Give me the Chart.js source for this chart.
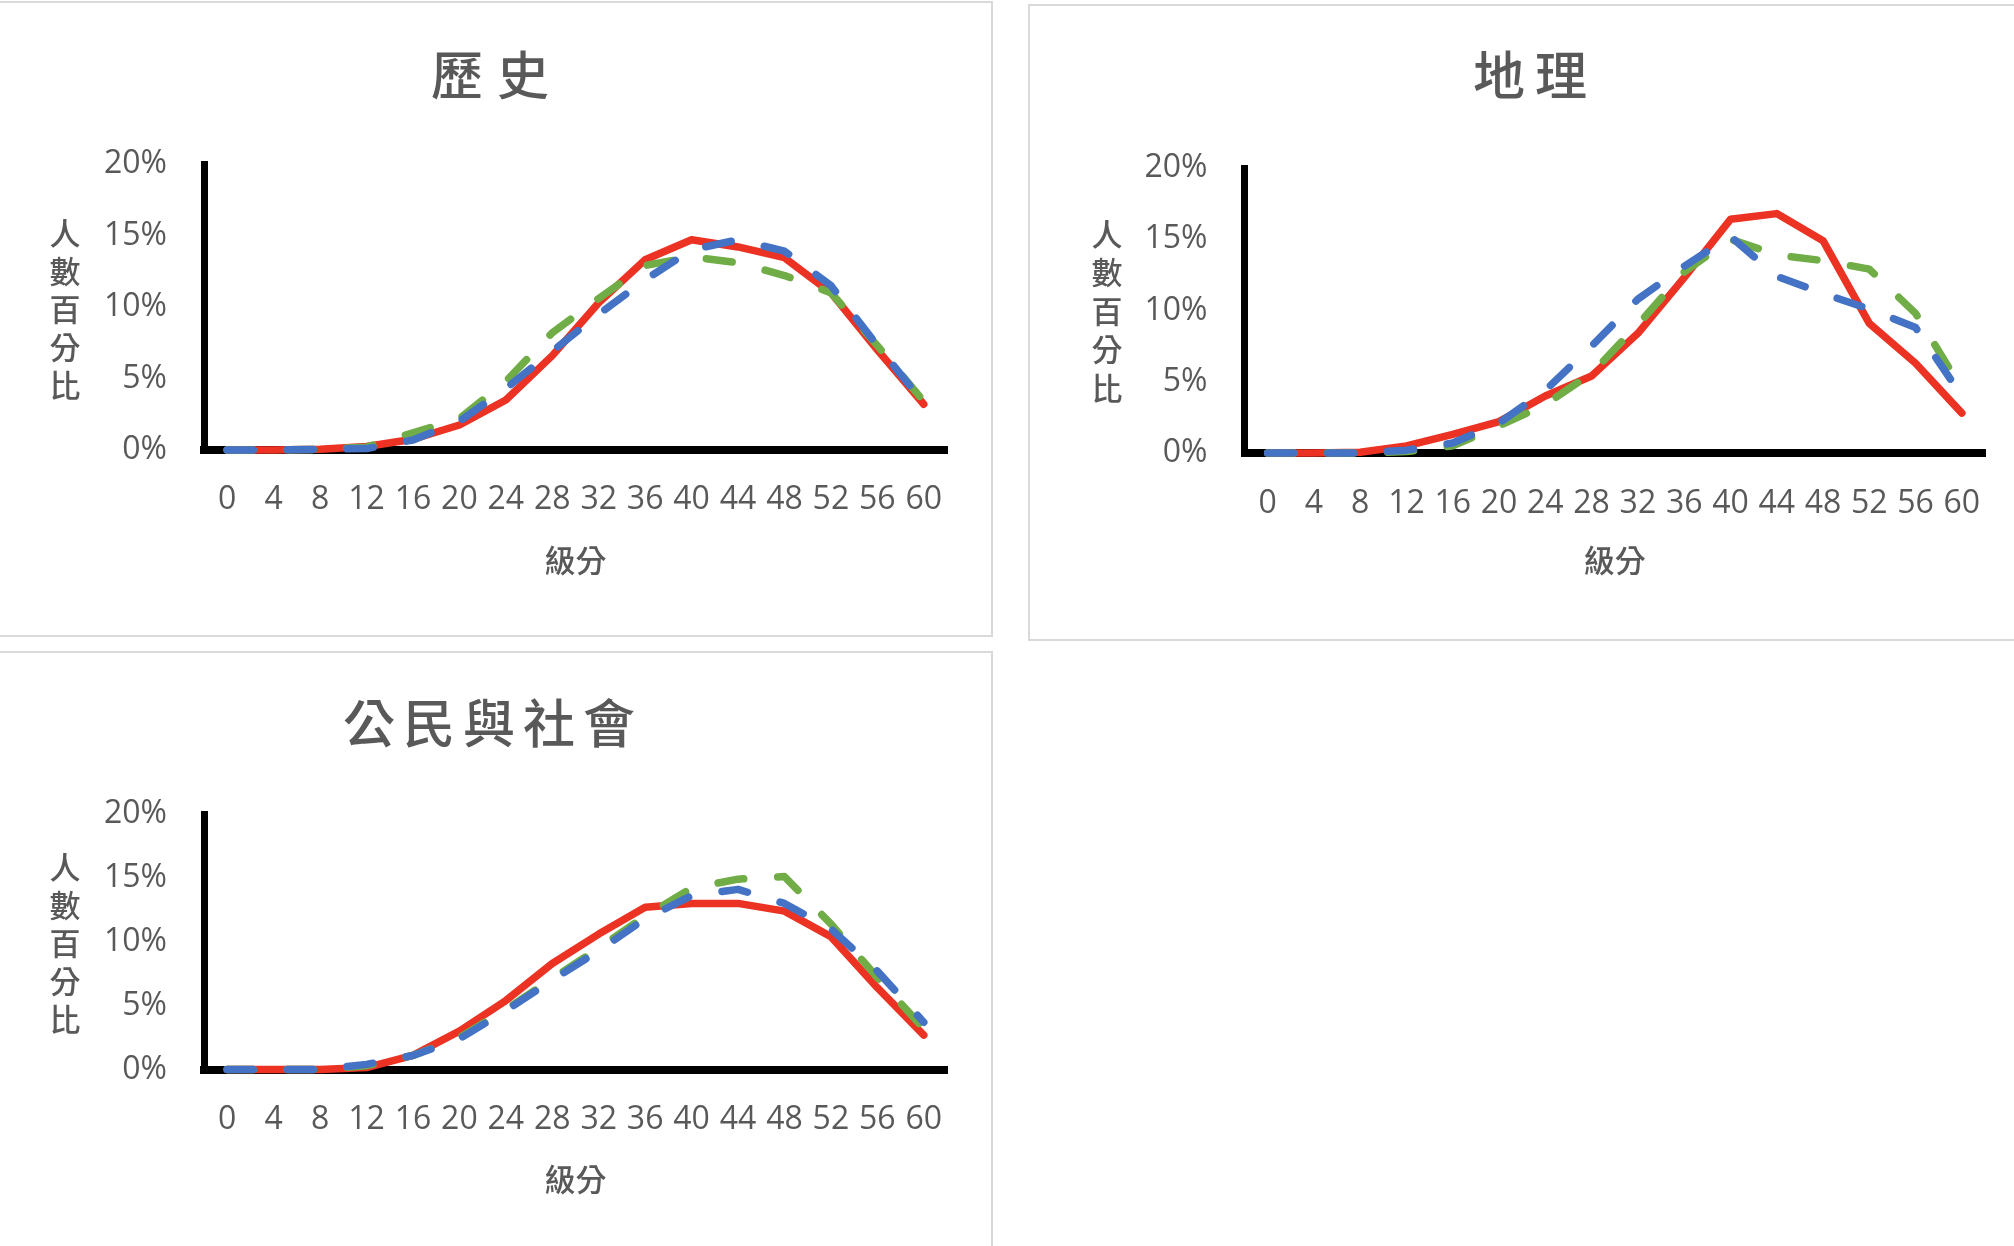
<!DOCTYPE html>
<html>
<head>
<meta charset="utf-8">
<script src="https://cdn.jsdelivr.net/npm/chart.js@4.4.1/dist/chart.umd.min.js"></script>
<style>
html,body{margin:0;padding:0;background:#fff;width:2014px;height:1246px;overflow:hidden;position:relative}
.panel{position:absolute;border:2px solid #d9d9d9;box-sizing:border-box;background:#fff}
canvas{position:absolute}
</style>
</head>
<body>
<div class="panel" style="left:-4px;top:1px;width:997px;height:636px"></div>
<div class="panel" style="left:1028px;top:4px;width:1000px;height:637px"></div>
<div class="panel" style="left:-4px;top:651px;width:997px;height:700px"></div>
<canvas id="c1" width="990" height="634" style="left:0px;top:0px"></canvas>
<canvas id="c2" width="984" height="632" style="left:1030px;top:6px"></canvas>
<canvas id="c3" width="990" height="593" style="left:0px;top:653px"></canvas>
<script>
// ---- data ----
const scoreLabels = ['0','4','8','12','16','20','24','28','32','36','40','44','48','52','56','60'];
const chartTitles = ['歷史', '地理', '公民與社會'];
const yAxisTitle = '人數百分比';
const xAxisTitle = '級分';
const seriesNames = ['系列1', '系列2', '系列3'];

// 歷史
const histRed   = [0, 0, 0.05, 0.25, 0.75, 1.75, 3.5, 6.6, 10.3, 13.3, 14.7, 14.2, 13.45, 11.0, 7.0, 3.2];
const histGreen = [0, 0, 0.05, 0.2, 1.2, 2.2, 4.8, 8.2, 10.6, 12.9, 13.5, 13.1, 12.2, 11.0, 7.3, 3.4];
const histBlue  = [0, 0, 0.05, 0.1, 0.7, 2.0, 4.3, 6.9, 9.5, 11.9, 14.0, 14.7, 13.9, 11.5, 7.3, 3.3];
// 地理
const geoRed   = [0, 0, 0.05, 0.5, 1.3, 2.2, 4.0, 5.4, 8.4, 12.3, 16.4, 16.8, 14.9, 9.1, 6.3, 2.8];
const geoGreen = [0, 0, 0, 0.1, 0.5, 1.9, 3.4, 5.6, 9.0, 12.7, 15.0, 13.9, 13.5, 12.9, 9.8, 4.5];
const geoBlue  = [0, 0, 0, 0.2, 0.7, 2.1, 4.4, 7.5, 10.8, 13.1, 15.2, 12.4, 11.2, 10.1, 8.8, 4.0];
// 公民與社會
const civRed   = [0, 0, 0, 0.15, 1.1, 3.0, 5.4, 8.3, 10.6, 12.7, 13.0, 13.0, 12.4, 10.4, 6.4, 2.7];
const civGreen = [0, 0, 0, 0.3, 1.1, 2.5, 4.7, 7.1, 9.5, 12.0, 14.2, 14.9, 15.1, 11.4, 7.2, 3.2];
const civBlue  = [0, 0, 0, 0.4, 1.1, 2.4, 4.6, 7.0, 9.3, 11.8, 13.6, 14.1, 13.0, 11.0, 7.7, 3.7];

// ---- styles ----
const RED = '#EB3223', GREEN = '#70AD47', BLUE = '#4472C4', TEXT = '#595959';
const NUM_FONT = '"Open Sans", "Liberation Sans", sans-serif';
const CJK_FONT = '"Noto Sans CJK TC", "Noto Sans CJK SC", sans-serif';

const panelText = {
  id: 'panelText',
  afterDraw(chart, args, o) {
    const ctx = chart.ctx;
    ctx.save();
    ctx.fillStyle = TEXT;
    ctx.textAlign = 'center';
    ctx.textBaseline = 'middle';
    ctx.font = '500 52px ' + CJK_FONT;
    ctx.letterSpacing = o.titleSpacing + 'px';
    ctx.fillText(o.title, o.titleX + o.titleSpacing / 2, o.titleY);
    ctx.letterSpacing = '0px';
    ctx.font = '500 31px ' + CJK_FONT;
    const chars = Array.from(yAxisTitle);
    chars.forEach((c, i) => ctx.fillText(c, o.yTitleX, o.yTitleY + i * o.yTitleStep));
    ctx.restore();
  }
};

function makeChart(id, title, red, green, blue, g) {
  const common = {borderWidth: 7.5, pointRadius: 0, tension: 0, fill: false, clip: false,
                  borderCapStyle: 'round', borderJoinStyle: 'round'};
  return new Chart(document.getElementById(id), {
    type: 'line',
    data: {
      labels: scoreLabels,
      datasets: [
        Object.assign({label: seriesNames[2], data: blue, borderColor: BLUE, borderDash: [26, 34]}, common),
        Object.assign({label: seriesNames[1], data: green, borderColor: GREEN, borderDash: [26, 34]}, common),
        Object.assign({label: seriesNames[0], data: red, borderColor: RED, borderDash: []}, common)
      ]
    },
    options: {
      responsive: false,
      animation: false,
      devicePixelRatio: 1,
      layout: {padding: {left: 0, right: g.padR, top: g.padT, bottom: g.padB}},
      plugins: {
        legend: {display: false},
        tooltip: {enabled: false},
        title: {display: false},
        panelText: {title: title, titleX: g.titleX, titleY: g.titleY, titleSpacing: g.titleSpacing,
                    yTitleX: g.yTitleX, yTitleY: g.yTitleY, yTitleStep: g.yTitleStep}
      },
      scales: {
        x: {
          type: 'category',
          offset: true,
          grid: {display: false, drawTicks: false},
          border: {display: true, color: '#000', width: 8},
          ticks: {color: TEXT, font: {family: NUM_FONT, size: 32}, padding: g.xTickPad,
                  maxRotation: 0, minRotation: 0, autoSkip: false},
          title: {display: true, text: xAxisTitle, color: TEXT,
                  font: {family: CJK_FONT, size: 31, weight: '500'}, padding: 0},
          afterFit: (s) => { s.height = g.xH; }
        },
        y: {
          min: 0, max: 20,
          grid: {display: false, drawTicks: false},
          border: {display: true, color: '#000', width: 7},
          ticks: {stepSize: 5, color: TEXT, font: {family: NUM_FONT, size: 32},
                  padding: g.yTickPad, callback: (v) => v + '%'},
          afterFit: (s) => { s.width = g.yW; }
        }
      }
    },
    plugins: [panelText]
  });
}

makeChart('c1', chartTitles[0], histRed, histGreen, histBlue,
  {padR: 43, padT: 164, padB: 55, xH: 129, yW: 204, xTickPad: 31, yTickPad: 37,
   titleX: 490, titleY: 75, titleSpacing: 14, yTitleX: 65, yTitleY: 233, yTitleStep: 38});
makeChart('c2', chartTitles[1], geoRed, geoGreen, geoBlue,
  {padR: 29, padT: 162, padB: 59, xH: 126, yW: 214.5, xTickPad: 32, yTitleStep: 38.5,
   yTickPad: 37, titleX: 500, titleY: 69, titleSpacing: 10, yTitleX: 77, yTitleY: 228});
makeChart('c3', chartTitles[2], civRed, civGreen, civBlue,
  {padR: 43, padT: 161, padB: 48, xH: 128.5, yW: 204, xTickPad: 31, yTickPad: 37,
   titleX: 489, titleY: 70, titleSpacing: 8, yTitleX: 65, yTitleY: 214, yTitleStep: 38});
</script>
</body>
</html>
